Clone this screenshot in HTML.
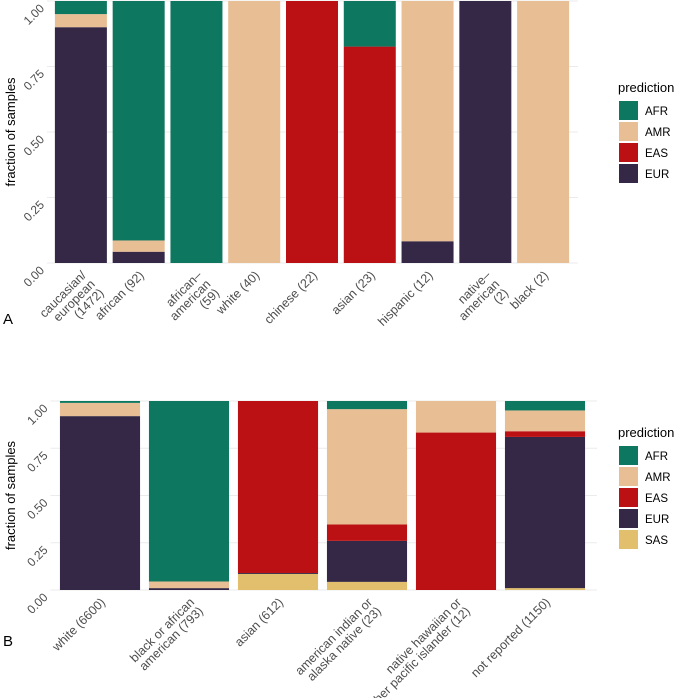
<!DOCTYPE html>
<html><head><meta charset="utf-8"><style>
html,body{margin:0;padding:0;background:#fff;}
svg{display:block;font-family:"Liberation Sans",sans-serif;}
</style></head><body>
<svg id="chart" width="675" height="698" xmlns="http://www.w3.org/2000/svg"></svg>
<script>
const ancestries = ["SAS","EUR","EAS","AMR","AFR"];
const colors = {AFR:"#0E7760",AMR:"#E8BE94",EAS:"#BB1115",EUR:"#352846",SAS:"#E1BF6C"};
const catsA = [["caucasian/","european","(1472)"],["african (92)"],["african–","american","(59)"],["white (40)"],["chinese (22)"],["asian (23)"],["hispanic (12)"],["native–","american","(2)"],["black (2)"]];
const sasA = [0,0,0,0,0,0,0,0,0];
const eurA = [0.90,0.043,0,0,0,0,0.083,1,0];
const easA = [0,0,0,0,1,0.826,0,0,0];
const amrA = [0.05,0.043,0,1,0,0,0.917,0,1];
const afrA = [0.05,0.914,1,0,0,0.174,0,0,0];
const catsB = [["white (6600)"],["black or african","american (793)"],["asian (612)"],["american indian or","alaska native (23)"],["native hawaiian or","other pacific islander (12)"],["not reported (1150)"]];
const sasB = [0,0,0.085,0.043,0,0.01];
const eurB = [0.92,0.01,0.005,0.217,0,0.80];
const easB = [0,0,0.91,0.087,0.833,0.03];
const amrB = [0.07,0.035,0,0.61,0.167,0.11];
const afrB = [0.01,0.955,0,0.043,0,0.05];
const yTicks = [0,0.25,0.5,0.75,1];
const yTickLabels = ["0.00","0.25","0.50","0.75","1.00"];

const svg = document.getElementById('chart');
const NS = "http://www.w3.org/2000/svg";
function mk(tag, attrs, parent){const e=document.createElementNS(NS,tag);for(const k in attrs)e.setAttribute(k,attrs[k]);(parent||svg).appendChild(e);return e;}

function panel(cfg){
  const g = mk('g',{});
  
  
  const y = v => cfg.y0 + (cfg.y1 - cfg.y0) * v;
  const n = cfg.cats.length;
  const step = (cfg.x1 - cfg.x0) / n;
  const bw = step * 0.9;
  const xc = i => cfg.x0 + step * (i + 0.5);
  yTicks.forEach((t,i)=>{
    const gl = mk('line',{x1:cfg.x0-5,x2:cfg.gx1,y1:y(t),y2:y(t),stroke:"#ebebeb","stroke-width":1},g);
    
    
    const tl = mk('text',{x:0,y:0,"font-size":12,fill:"#4d4d4d","text-anchor":"end",transform:`translate(${cfg.x0-7},${y(t)+8}) rotate(-45)`},g);
    tl.textContent = yTickLabels[i];
    
    
  });
  const series = {SAS:cfg.sas,EUR:cfg.eur,EAS:cfg.eas,AMR:cfg.amr,AFR:cfg.afr};
  for(let i=0;i<n;i++){
    let cum=0;
    ancestries.forEach(a=>{
      const v = series[a][i];
      if(v>0){
        const r = mk('rect',{x:xc(i)-bw/2,y:y(cum+v),width:bw,height:y(cum)-y(cum+v),fill:colors[a]},g);
        
        
      }
      cum+=v;
    });
    const lines = cfg.cats[i];
    const t = mk('text',{"font-size":12.5,fill:"#4d4d4d","text-anchor":"end",transform:`translate(${xc(i)+6},${cfg.y0+13}) rotate(-45)`},g);
    
    
    lines.forEach((l,k)=>{const ts=mk('tspan',{x:0,dy:k===0?0:12.5},t);ts.textContent=l;});
  }
  const yt = mk('text',{"font-size":13,fill:"#000","text-anchor":"middle",transform:`translate(15,${(cfg.y0+cfg.y1)/2}) rotate(-90)`},g);
  yt.textContent = "fraction of samples";
  
  
  const pl = mk('text',{x:3,y:cfg.labelY,"font-size":15,fill:"#000"},g);
  pl.textContent = cfg.label;
  
  
  const lt = mk('text',{x:618,y:cfg.legY,"font-size":13,fill:"#000"},g);
  lt.textContent = "prediction";
  
  
  cfg.legKeys.forEach((a,k)=>{
    const ky = cfg.legY + 9 + k*21;
    const kr = mk('rect',{x:619,y:ky,width:19,height:19,fill:colors[a]},g);
    
    
    const kt = mk('text',{x:645,y:ky+14,"font-size":11.5,fill:"#000"},g);
    kt.textContent = a;
    
    
  });
}
panel({name:'panel-a',cats:catsA,sas:sasA,eur:eurA,eas:easA,amr:amrA,afr:afrA,x0:52,x1:572,gx1:578,y0:263,y1:1,label:"A",labelY:324,legY:92,legKeys:["AFR","AMR","EAS","EUR"]});
panel({name:'panel-b',cats:catsB,sas:sasB,eur:eurB,eas:easB,amr:amrB,afr:afrB,x0:55.5,x1:589.5,gx1:597,y0:590,y1:401,label:"B",labelY:646,legY:437,legKeys:["AFR","AMR","EAS","EUR","SAS"]});
</script>
</body></html>
